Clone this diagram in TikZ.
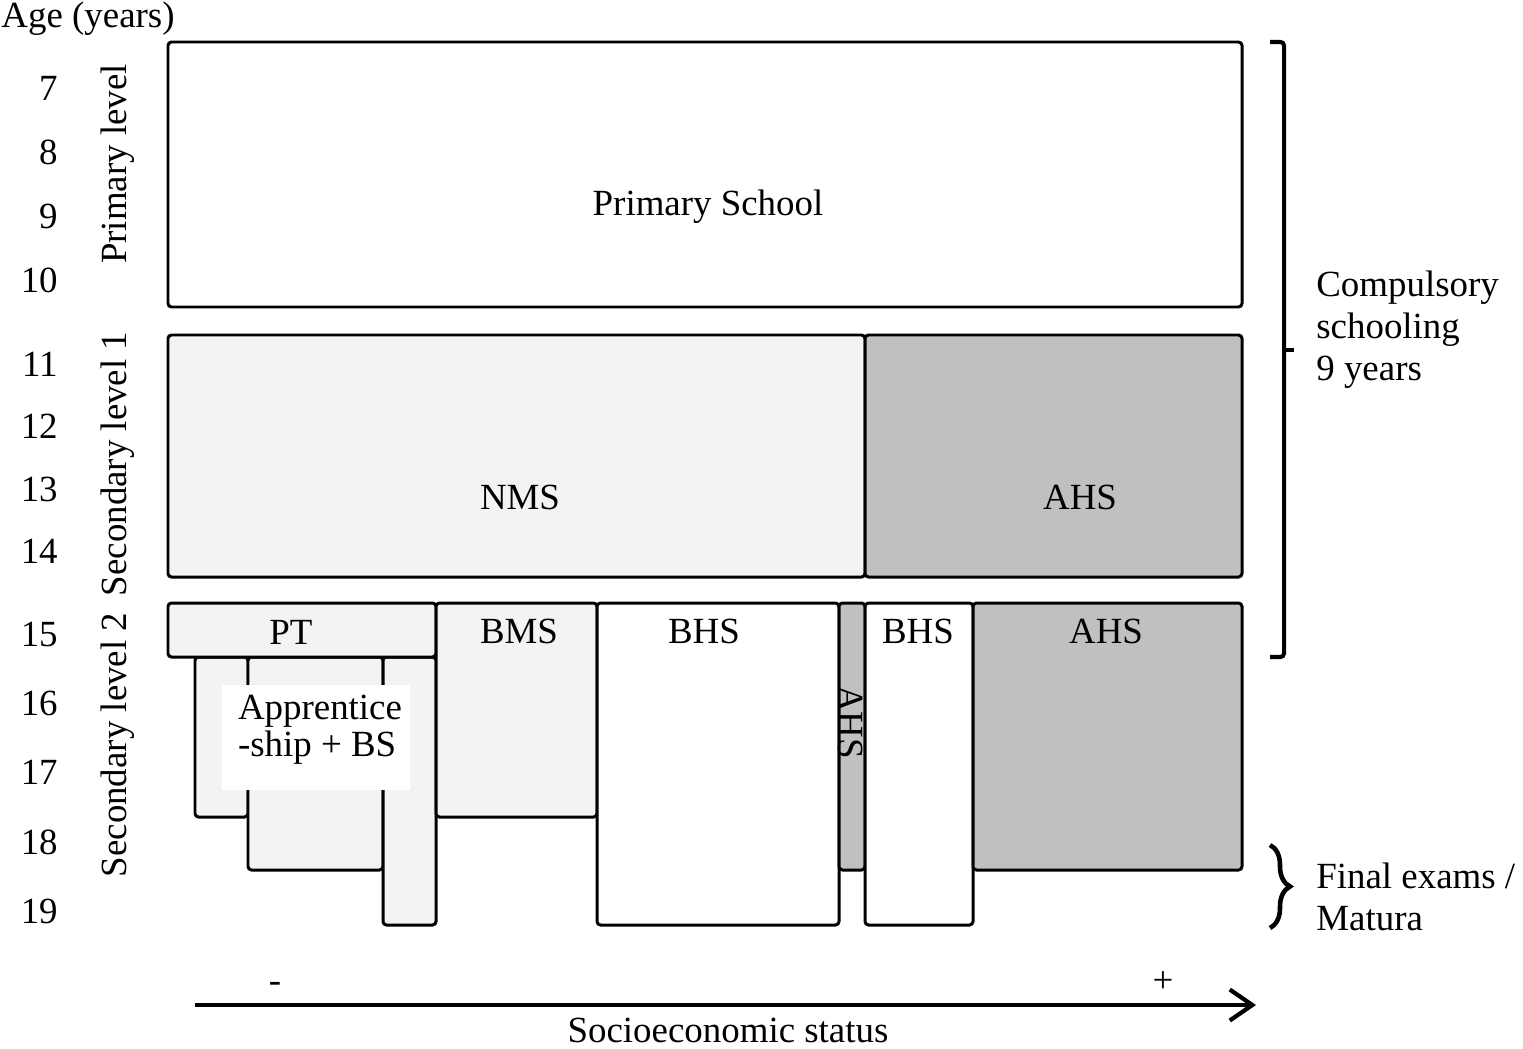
\documentclass[tikz,border=0pt]{standalone}
\usepackage{fontspec}
\setmainfont{Liberation Serif}
\usetikzlibrary{fit,arrows.meta,decorations.pathreplacing}
\definecolor{lightg}{HTML}{F3F3F3}
\definecolor{midg}{HTML}{C0C0C0}
\newcommand\mkblk[6]{%
  \coordinate (#1-nw) at (#2,#3);
  \coordinate (#1-se) at (#4,#5);
  \node[blk, fill=#6, fit=(#1-nw)(#1-se)] (#1) {};}
\begin{document}
\begin{tikzpicture}[x=0.02cm,y=-0.02cm,
  lbl/.style={font=\fontsize{21}{24}\selectfont, inner sep=0},
  blk/.style={draw, line width=1.7pt, rounded corners=2pt, inner sep=0},
  brk/.style={line width=2.3pt, rounded corners=2pt},
  axis/.style={line width=2.4pt, -{Straight Barb[length=0.45cm,width=0.62cm]}}]
\useasboundingbox (0,0) rectangle (1523,1048);
% rows 1 and 2
\mkblk{ps}{168}{42}{1242}{307}{white}
\mkblk{nms}{168}{335}{865}{577}{lightg}
\mkblk{ahsa}{865}{335}{1242}{577}{midg}
% row 3
\mkblk{col1}{195}{657}{248}{817}{lightg}
\mkblk{col2}{248}{657}{383}{870}{lightg}
\mkblk{col3}{383}{657}{436}{925}{lightg}
\mkblk{pt}{168}{603}{436}{657}{lightg}
\mkblk{bms}{436}{603}{597}{817}{lightg}
\mkblk{bhsa}{597}{603}{839}{925}{white}
\mkblk{ahsn}{839}{603}{865}{870}{midg}
\mkblk{bhsb}{865}{603}{973}{925}{white}
\mkblk{ahsb}{973}{603}{1242}{870}{midg}
\node[fill=white, minimum width=3.76cm, minimum height=2.1cm, inner sep=0] (appbox) at (316,737) {};
\node[lbl, align=left] (app) at (320,730) {Apprentice\\[-3pt]-ship + BS};
% box labels
\node[lbl, anchor=base] (tps) at (708,215) {Primary School};
\node[lbl, anchor=base] (tnms) at (520,509) {NMS};
\node[lbl, anchor=base] (tahsa) at (1080,509) {AHS};
\node[lbl, anchor=base] (tpt) at (291,644) {PT};
\node[lbl, anchor=base] (tbms) at (519,643) {BMS};
\node[lbl, anchor=base] (tbhsa) at (704,643) {BHS};
\node[lbl, anchor=base] (tbhsb) at (918,643) {BHS};
\node[lbl, anchor=base] (tahsb) at (1106,643) {AHS};
\node[lbl, rotate=-90] (tahsn) at (851,722) {AHS};
% left axis
\node[lbl, anchor=base] (age) at (88,28) {Age (years)};
\foreach \a/\y in {7/88,8/152,9/216,10/280,11/364,12/426,13/489,14/551,15/634,16/703,17/772,18/842,19/911}
  \node[lbl, anchor=base east] (age\a) at (58,\y+12) {\a};
\node[lbl, rotate=90] (lvp) at (118,164) {Primary level};
\node[lbl, rotate=90] (lvs1) at (118,464) {Secondary level 1};
\node[lbl, rotate=90] (lvs2) at (118,745) {Secondary level 2};
% right brackets
\coordinate (b1t) at (1270,42);
\coordinate (b1b) at (1270,657);
\coordinate (b1m) at (1284,350);
\coordinate (b1tip) at (1294,350);
\draw[brk] (b1t) -- (1284,42) -- (1284,657) -- (b1b);
\draw[line width=2.3pt] (b1m) -- (b1tip);
\node[lbl, align=left, anchor=west] (comp) at (1316,330) {Compulsory\\schooling\\9 years};
\coordinate (b2t) at (1270,845);
\coordinate (b2b) at (1270,928);
\draw[line width=2.6pt, decorate, decoration={brace, amplitude=0.4cm}] (b2t) -- (b2b);
\node[lbl, align=left, anchor=west] (fin) at (1316,897) {Final exams /\\Matura};
% bottom axis
\coordinate (ax1) at (195,1005);
\coordinate (ax2) at (1256,1005);
\draw[axis] (ax1) -- (ax2);
\node[lbl, anchor=base] (minus) at (275,992) {-};
\node[lbl, anchor=base] (plus) at (1163,992) {+};
\node[lbl, anchor=base] (ses) at (728,1042) {Socioeconomic status};
\end{tikzpicture}
\end{document}
